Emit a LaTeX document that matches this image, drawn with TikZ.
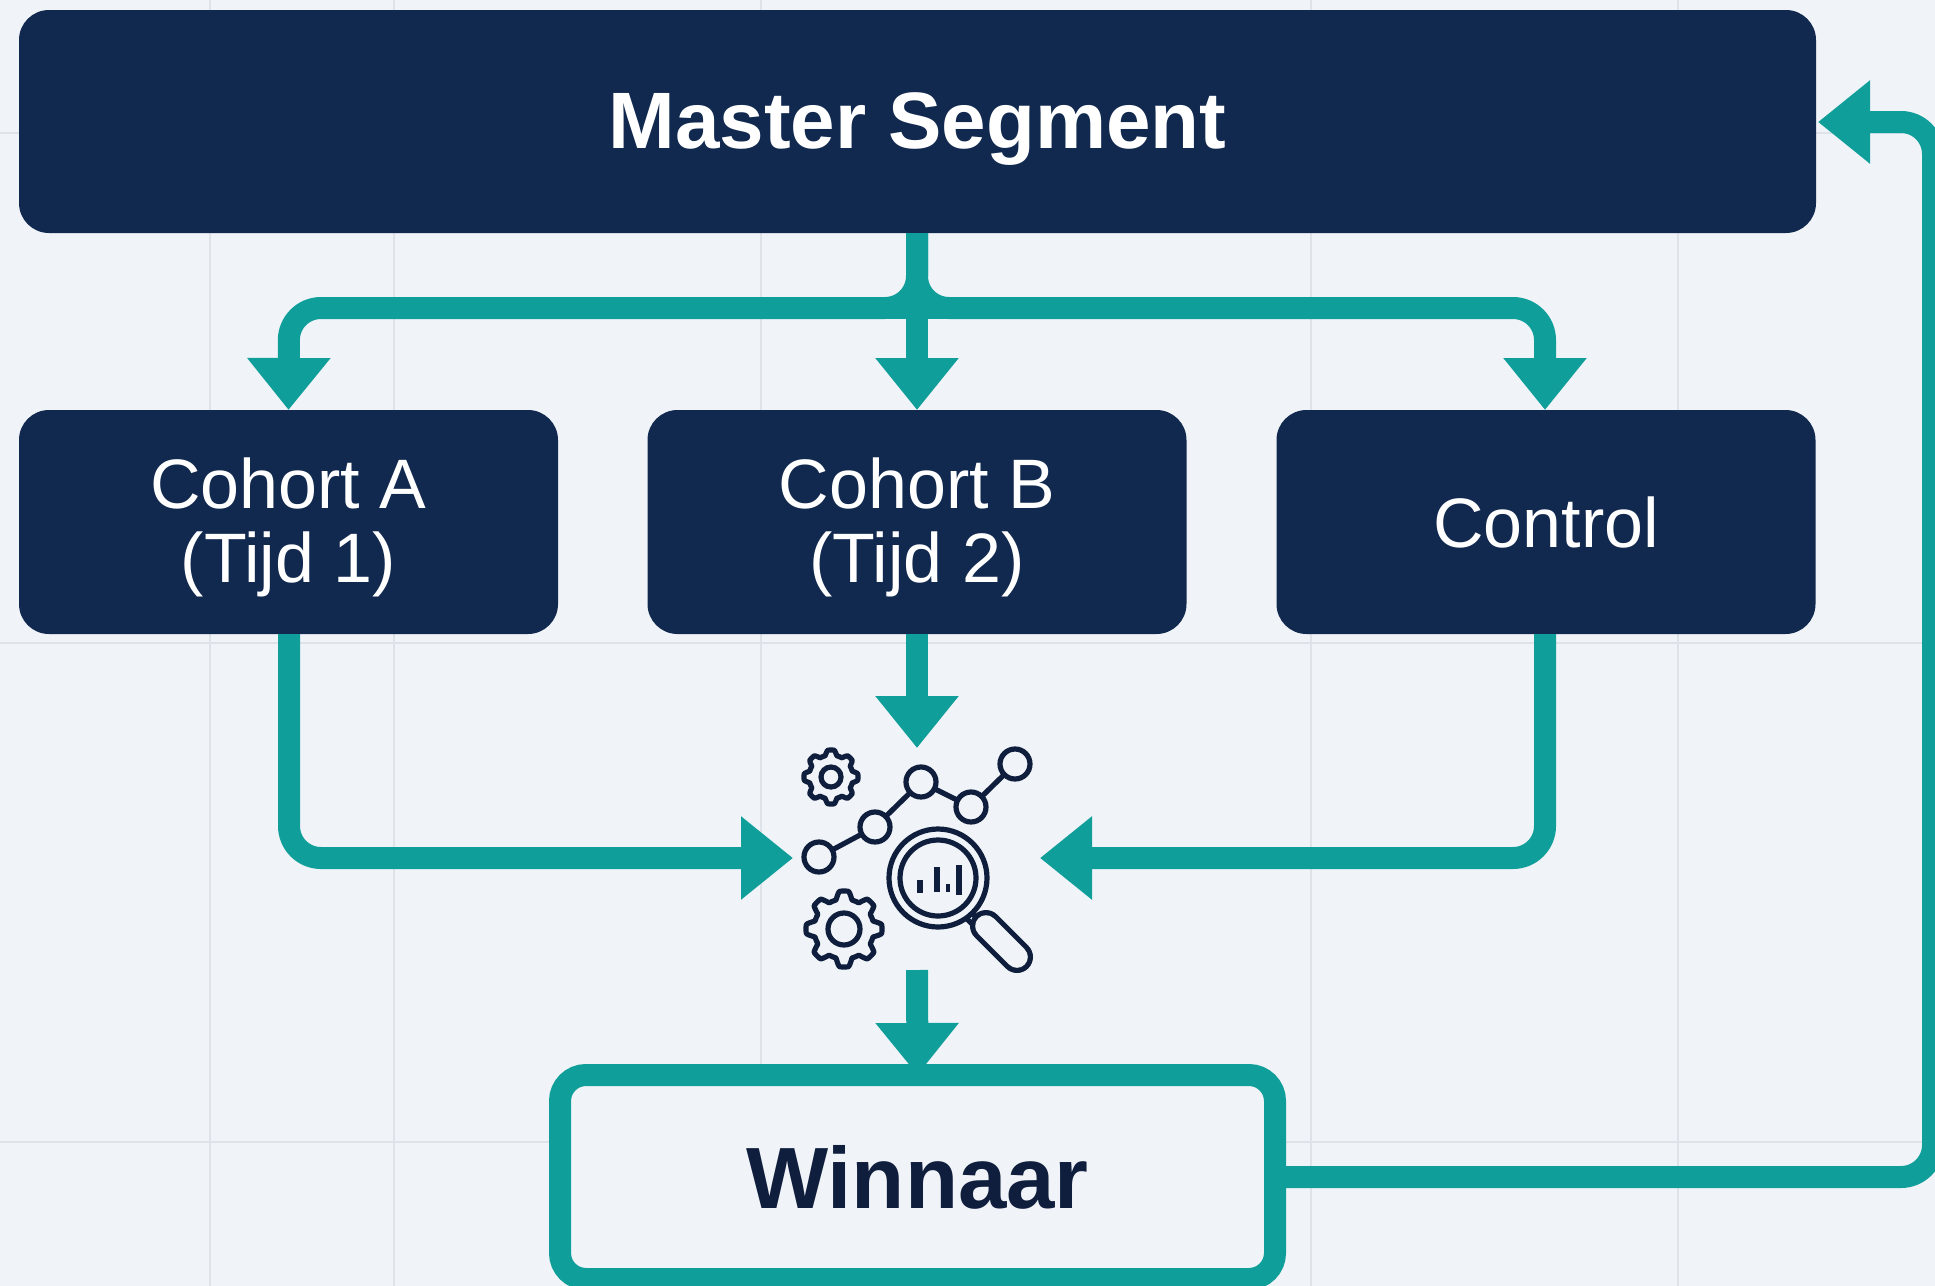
\documentclass[tikz,border=0pt]{standalone}
\usepackage{fontspec}
\setmainfont{Liberation Sans}
\usetikzlibrary{arrows.meta}
\definecolor{navy}{HTML}{12294F}
\definecolor{teal2}{HTML}{0F9E9A}
\definecolor{bgc}{HTML}{F0F4F8}
\definecolor{gridc}{HTML}{DEE2E9}
\definecolor{ink}{HTML}{0F1E3C}
\tikzset{
  declare function={gr(\t,\a,\b,\n)=\a+(\b-\a)*max(0,min(1,0.5+0.9*cos(\n*\t)));},
  navybox/.style={fill=navy,text=white,rounded corners=15pt,outer sep=0pt,inner sep=0pt,align=center},
  cohort/.style={navybox,minimum width=269.5pt,minimum height=112pt,font=\fontsize{35}{37}\selectfont},
  winbox/.style={draw=teal2,fill=bgc,line width=11pt,rounded corners=13pt,outer sep=0pt,inner sep=0pt,minimum width=357.5pt,minimum height=102pt,text=ink,font=\fontsize{43.5}{46}\bfseries\selectfont},
  flow/.style={draw=teal2,line width=11pt,rounded corners=16pt},
  flowtip/.style={flow,-{Triangle[length=26pt,width=40pt]}},
  gridline/.style={draw=gridc,line width=0.7pt},
  icon/.style={draw=ink,line width=2.6pt},
  dot/.style={circle,draw=ink,line width=2.6pt,fill=bgc,minimum size=15pt,inner sep=0pt},
}
\begin{document}
\begin{tikzpicture}[x=0.5pt,y=-0.5pt]
\useasboundingbox (0,0) rectangle (1935,1286);
\clip (0,0) rectangle (1935,1286);
\fill[bgc] (0,0) rectangle (1935,1286);
% background grid
\foreach \gx in {210,394,761,1311,1678} \draw[gridline] (\gx,0) -- (\gx,1286);
\foreach \gy in {133,643,1142} \draw[gridline] (0,\gy) -- (1935,\gy);
% boxes
\node[navybox,minimum width=898.5pt,minimum height=111.5pt,font=\fontsize{40}{42}\bfseries\selectfont] (master) at (917.5,121.5) {\rule{0pt}{35pt}Master Segment};
\node[cohort] (cohA) at (288.5,522) {\rule{0pt}{31pt}Cohort A\\(Tijd 1)};
\node[cohort] (cohB) at (917,522) {\rule{0pt}{31pt}Cohort B\\(Tijd 2)};
\node[cohort] (ctrl) at (1546,522) {Control};
\node[winbox] (win) at (917.5,1177) {Winnaar};
% anchors of the flows
\coordinate (busL) at (289,308);
\coordinate (busC) at (917,308);
\coordinate (busR) at (1545,308);
\coordinate (iconT) at (917,748);
\coordinate (iconL) at (793,858);
\coordinate (iconR) at (1040,858);
\coordinate (iconB) at (917,970);
\coordinate (turnA) at (289,858);
\coordinate (turnC) at (1545,858);
\coordinate (fbB) at (1933,1177);
\coordinate (fbT) at (1933,122);
\coordinate (masterIn) at (1818,122);
\coordinate (masterB) at (917,233);
% flows
\draw[flowtip] (masterB) -- (busC) -- (busL) -- (cohA.north);
\draw[flowtip] (masterB) -- (busC) -- (busR) -- (busR |- cohA.north);
\draw[flowtip] (masterB) -- (cohB.north);
\draw[flow] ([xshift=-20pt]busC) -- ([xshift=20pt]busC);
\draw[flowtip] (cohB.south) -- (iconT);
\draw[flowtip] (turnA |- cohA.south) -- (turnA) -- (iconL);
\draw[flowtip] (turnC |- ctrl.south) -- (turnC) -- (iconR);
\draw[flowtip] (iconB) -- (win.north);
\draw[flowtip] (win.east) -- (fbB) -- (fbT) -- (masterIn);
% chart icon
\draw[icon] (819,857) -- (875,827) -- (921,782) -- (971,807) -- (1015,764);
\node[dot] (d1) at (819,857) {};
\node[dot] (d2) at (875,827) {};
\node[dot] (d3) at (921,782) {};
\node[dot] (d4) at (971,807) {};
\node[dot] (d5) at (1015,764) {};
% gears
\draw[icon,line join=round] plot[domain=0:360,samples=193] ({831+gr(\x,22,27,8)*cos(\x)},{777+gr(\x,22,27,8)*sin(\x)}) -- cycle;
\draw[icon] (831,777) circle[radius=10];
\draw[icon,line join=round] plot[domain=0:360,samples=193] ({844+gr(\x,30,38,8)*cos(\x)},{929+gr(\x,30,38,8)*sin(\x)}) -- cycle;
\draw[icon] (844,929) circle[radius=16];
% magnifier
\draw[icon] (938,878) circle[radius=49];
\draw[icon] (938,878) circle[radius=38];
\draw[ink,line width=2.6pt] (920,880) -- (920,893);
\draw[ink,line width=2.6pt] (937,867) -- (937,892);
\draw[ink,line width=1.8pt] (948,884) -- (948,892);
\draw[ink,line width=2.6pt] (959,865) -- (959,895);
\draw[ink,line width=2.6pt] (972,913) -- (980,921);
\draw[ink,line width=2.6pt] (966,918) -- (975,927);
\draw[ink,line width=16pt,line cap=round] (986,926) -- (1017,957);
\draw[bgc,line width=10.8pt,line cap=round] (986,926) -- (1017,957);
\end{tikzpicture}
\end{document}
